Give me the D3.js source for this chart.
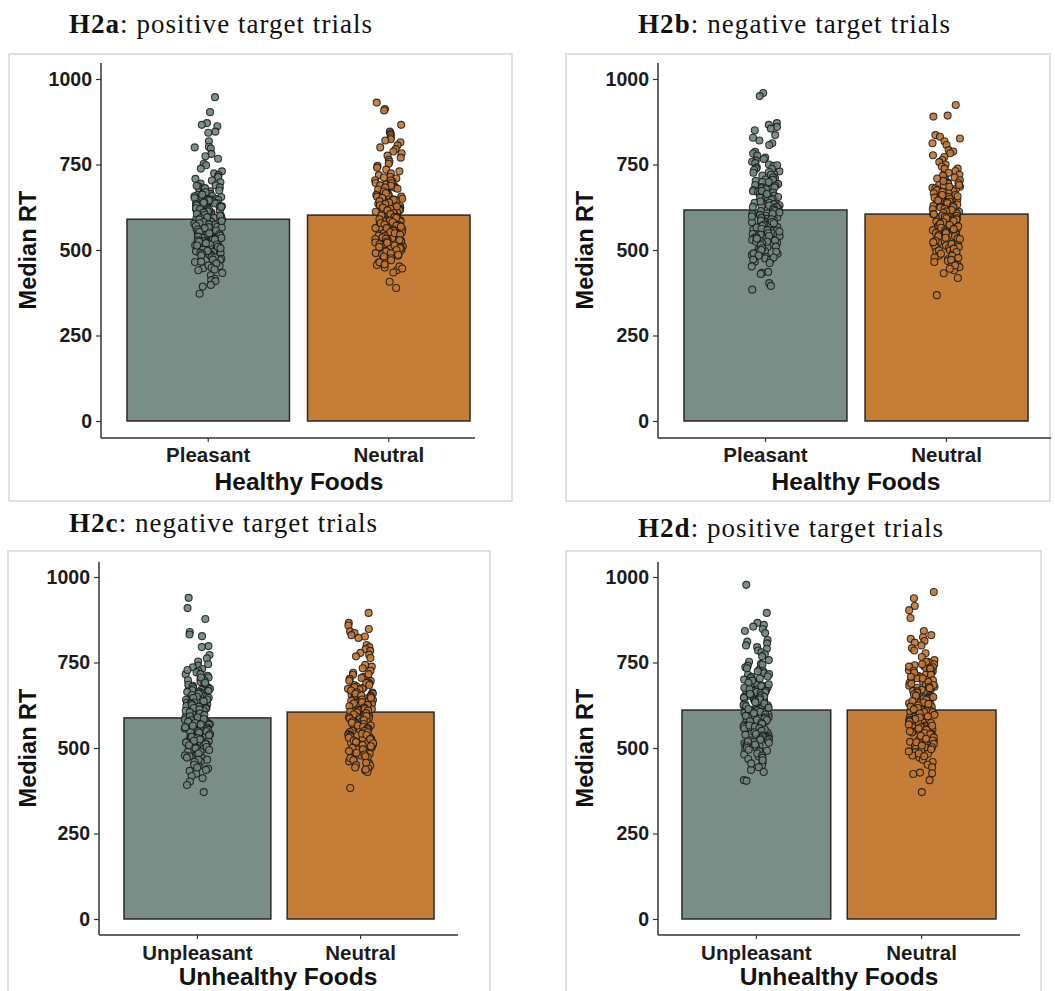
<!DOCTYPE html>
<html><head><meta charset="utf-8">
<script src="https://cdn.jsdelivr.net/npm/d3@7"></script>
<style>body{margin:0;background:#fff}svg{display:block}</style>
</head><body><svg id="c" width="1055" height="991"></svg>
<script>
// ---------- data ----------
const yTicks = [0, 250, 500, 750, 1000];
const healthyCats = ["Pleasant", "Neutral"];
const unhealthyCats = ["Unpleasant", "Neutral"];

const h2aMedians = [590, 602];
const h2bMedians = [617, 605];
const h2cMedians = [588, 605];
const h2dMedians = [611, 611];

const h2aPleasant = [947,903,871,866,862,846,843,818,802,800,797,781,774,767,752,748,738,730,724,719,713,708,703,698,694,689,686,683,679,676,672,670,667,664,661,658,655,653,650,649,646,644,642,640,637,636,633,631,628,627,624,623,620,618,615,614,611,609,607,605,602,601,598,597,594,592,590,587,586,583,581,579,577,574,573,570,568,566,563,561,560,557,555,553,550,549,546,544,542,540,537,535,533,531,528,526,524,521,519,517,514,512,509,507,504,502,499,496,494,491,488,486,483,479,474,470,465,459,453,447,441,433,426,416,412,409,398,393,372,
  688,681,674,669,662,657,652,648,645,641,638,634,630,626,622,619,617,613,610,606,603,600,596,593,589,585,582,578,575,571,567,564,560,557,553,549,546,542,539,535,531,528,524,520,516,513,509,505,501,497,492,488,484,478,472,466,461,455,448,443];
const h2aNeutral = [931,912,908,866,846,841,836,829,824,820,815,806,800,795,788,783,776,770,764,758,752,746,741,735,730,724,719,714,709,704,700,696,692,689,685,682,679,676,673,670,667,664,661,658,656,653,650,648,645,643,640,638,635,633,630,628,625,623,621,618,616,613,611,609,606,604,601,599,597,594,592,590,587,585,583,580,578,576,573,571,569,566,564,561,559,557,554,552,549,547,545,542,540,537,535,532,530,527,524,522,519,516,513,510,507,504,501,498,495,491,487,483,479,474,469,463,456,449,441,434,407,389,
  712,703,695,688,683,677,671,666,661,656,652,647,643,639,635,631,627,624,620,616,612,608,605,601,597,594,590,586,582,579,575,571,568,564,560,556,552,549,545,541,537,533,529,525,521,517,513,509,505,500,496,491,486,481,476,470,464,458,452,446];
const h2bPleasant = [959,950,871,866,860,855,850,836,828,820,812,807,787,782,776,770,766,762,758,754,750,746,742,738,734,730,726,722,718,714,710,706,702,699,696,693,690,687,684,681,678,675,672,669,667,664,661,658,656,653,651,648,646,643,641,638,636,633,631,628,626,624,621,619,617,614,612,610,607,605,602,600,598,595,593,591,588,586,583,581,579,576,574,571,569,567,564,562,559,557,554,552,549,547,544,541,539,536,533,530,527,524,521,518,515,512,508,505,501,497,493,489,485,480,475,471,466,436,433,430,403,395,384,
  748,737,728,720,712,705,699,693,688,683,678,673,668,664,659,655,650,646,642,638,634,630,626,622,618,614,610,606,602,598,594,590,586,582,578,574,570,566,562,558,554,549,545,541,537,533,528,524,519,514,510,505,500,495,490,484,478,472,462,452];
const h2bNeutral = [924,893,890,836,831,826,818,812,807,792,788,783,777,772,763,757,750,744,738,731,726,720,716,712,708,704,700,697,694,691,688,685,682,679,676,673,670,667,664,661,658,655,652,650,647,644,642,639,637,634,632,629,627,624,622,619,617,614,612,609,607,605,602,600,598,595,593,590,588,586,583,581,578,576,573,571,568,566,563,561,558,556,553,550,548,545,542,540,537,534,531,528,525,522,519,516,513,509,506,503,499,495,491,487,483,478,473,468,462,456,450,441,432,418,368,
  738,726,717,709,702,696,690,685,680,675,670,666,661,657,653,649,645,641,637,633,629,625,621,617,613,609,605,601,597,593,589,585,581,577,573,569,565,561,557,553,549,544,540,536,532,527,523,518,514,509,504,499,494,489,483,477,471,465,455,445];
const h2cUnpleasant = [939,909,877,839,832,827,798,795,772,762,753,745,741,736,731,726,721,716,711,706,701,697,693,689,686,682,679,676,673,670,667,664,661,658,655,652,650,647,644,641,639,636,633,631,628,625,623,620,617,615,612,609,607,604,601,599,596,594,591,588,586,583,581,578,575,573,570,568,565,562,560,557,554,552,549,546,543,541,538,535,532,529,526,523,520,517,514,510,507,504,500,497,493,489,485,481,476,471,466,460,454,447,440,433,425,418,412,402,392,371,
  728,716,706,698,691,685,679,674,669,664,659,655,650,646,642,637,633,629,625,621,617,613,609,605,601,597,593,589,585,581,577,573,569,565,561,557,553,549,545,541,537,533,529,525,521,516,512,508,503,499,494,489,484,478,472,466,459,451,443,436];
const h2cNeutral = [895,866,858,848,841,836,830,826,822,801,795,789,784,778,773,768,763,743,738,733,726,720,714,708,702,696,692,688,684,680,677,674,671,668,665,662,659,656,653,650,648,645,642,640,637,634,632,629,627,624,622,619,617,614,612,609,607,604,602,599,597,594,592,589,587,584,582,579,577,574,572,569,566,564,561,558,556,553,550,547,544,541,538,535,532,529,526,523,519,516,512,508,504,500,496,492,488,483,478,473,467,461,455,448,441,434,430,383,
  716,705,697,690,684,678,673,668,663,659,654,650,646,642,638,634,630,626,622,618,614,610,606,602,598,594,590,586,582,578,574,570,566,562,558,554,550,546,542,538,534,530,526,522,518,514,509,505,500,496,491,486,481,476,470,464,457,450,443,437];
const h2dUnpleasant = [977,895,866,860,855,848,842,836,816,811,806,800,795,790,785,780,774,768,757,752,746,741,736,730,725,719,714,708,704,700,696,692,689,685,682,679,676,673,670,667,664,661,658,655,652,649,646,644,641,638,636,633,630,628,625,623,620,618,615,613,610,608,605,603,600,598,595,592,590,587,585,582,579,577,574,571,568,566,563,560,557,554,551,548,545,542,539,536,532,529,526,522,518,514,510,506,502,497,492,487,481,475,468,458,450,444,436,430,406,404,
  744,733,724,716,709,703,697,691,686,681,676,672,667,663,658,654,650,646,642,638,634,630,626,622,618,614,610,606,602,598,594,590,586,582,578,574,570,566,562,558,554,550,546,541,537,533,528,524,519,515,510,505,500,495,490,484,478,472,464,455];
const h2dNeutral = [956,938,915,903,880,842,830,824,819,813,808,800,792,785,777,766,757,752,748,745,742,739,736,733,730,727,724,721,718,714,711,707,704,700,697,694,691,688,685,682,679,676,673,670,667,664,661,658,655,652,649,647,644,641,639,636,633,631,628,625,623,620,618,615,612,610,607,605,602,599,597,594,591,589,586,583,580,577,575,572,569,566,563,560,557,554,551,548,545,542,539,535,532,529,525,522,518,514,510,506,502,498,493,488,483,478,472,466,459,451,444,428,426,424,406,371,
  752,745,738,732,726,720,714,708,703,698,693,688,684,679,675,670,666,662,657,653,649,645,641,637,633,629,625,621,617,613,609,605,601,597,593,589,585,581,577,573,569,565,561,557,553,549,544,540,536,531,527,522,517,512,507,502,496,490,484,476];

const fillColors = ["#7a8d86", "#c57d38"];
const pointFills = ["#6f857d", "#c27632"];

// ---------- layout ----------
const panels = [
  {bold:"H2a", rest:": positive target trials", cats:healthyCats, xTitle:"Healthy Foods", medians:h2aMedians, pts:[h2aPleasant,h2aNeutral],
   box:[9,54,512,501], titleX:69, titleY:33, titleW:303, axisX:101, axisEnd:475, barL:127, barR:470, y0:421, y1:79, axisY:438, axisTop:63, ylabX:28, catY:462, xtX:299, xtY:490},
  {bold:"H2b", rest:": negative target trials", cats:healthyCats, xTitle:"Healthy Foods", medians:h2bMedians, pts:[h2bPleasant,h2bNeutral],
   box:[566,54,1050,501], titleX:638, titleY:33, titleW:312, axisX:658, axisEnd:1051, barL:684, barR:1028, y0:421, y1:79, axisY:438, axisTop:63, ylabX:585, catY:462, xtX:856, xtY:490},
  {bold:"H2c", rest:": negative target trials", cats:unhealthyCats, xTitle:"Unhealthy Foods", medians:h2cMedians, pts:[h2cUnpleasant,h2cNeutral],
   box:[8,551,490,996], titleX:69, titleY:532, titleW:308, axisX:99, axisEnd:458, barL:124, barR:434, y0:919, y1:577, axisY:935, axisTop:562, ylabX:28, catY:960, xtX:278, xtY:985},
  {bold:"H2d", rest:": positive target trials", cats:unhealthyCats, xTitle:"Unhealthy Foods", medians:h2dMedians, pts:[h2dUnpleasant,h2dNeutral],
   box:[566,551,1041,996], titleX:638, titleY:537, titleW:305, axisX:658, axisEnd:1020, barL:682, barR:996, y0:919, y1:577, axisY:935, axisTop:562, ylabX:585, catY:960, xtX:839, xtY:985}
];

const svg = d3.select("#c");
svg.append("rect").attr("width",1055).attr("height",991).attr("fill","#fff");

const sans = "'Liberation Sans', Arial, sans-serif";
const serif = "'Liberation Serif', 'Times New Roman', serif";
const ink = "#1c1c1c";

// deterministic jitter offset in [-1, 1] (visual spread only)
function jit(i, k) {
  const s = Math.sin(i * 12.9898 + k * 78.233) * 43758.5453;
  return (s - Math.floor(s)) * 2 - 1;
}

panels.forEach((p, pi) => {
  const g = svg.append("g");
  g.append("rect").attr("x",p.box[0]).attr("y",p.box[1])
    .attr("width",p.box[2]-p.box[0]).attr("height",p.box[3]-p.box[1])
    .attr("fill","none").attr("stroke","#d6d6d6").attr("stroke-width",1.5);

  const t = g.append("text").attr("x",p.titleX).attr("y",p.titleY)
    .attr("font-family",serif).attr("font-size",27).attr("fill","#111")
    .attr("textLength",p.titleW).attr("lengthAdjust","spacing");
  t.append("tspan").attr("font-weight","bold").text(p.bold);
  t.append("tspan").text(p.rest);

  const x = d3.scaleBand().domain(p.cats).paddingInner(0.1).paddingOuter(0.05);
  const step = (p.barR - p.barL) / 1.9;
  x.range([p.barL - 0.05*step, p.barR + 0.05*step]);
  const y = d3.scaleLinear().domain([0,1000]).range([p.y0, p.y1]);

  g.selectAll(".bar").data(p.cats).join("rect")
    .attr("x", d => x(d)).attr("width", x.bandwidth())
    .attr("y", (d,i) => y(p.medians[i])).attr("height", (d,i) => y(0) - y(p.medians[i]))
    .attr("fill", (d,i) => fillColors[i]).attr("stroke","#2a2a2a").attr("stroke-width",1.5);

  const w = 0.078 * x.step();
  p.cats.forEach((c,ci) => {
    const cx = x(c) + x.bandwidth()/2;
    g.append("g").selectAll("circle").data(p.pts[ci]).join("circle")
      .attr("cx", (v,i) => cx + jit(i + 1, pi*2 + ci + 1) * w)
      .attr("cy", v => y(v))
      .attr("r", 3.5)
      .attr("fill", pointFills[ci]).attr("fill-opacity",0.9)
      .attr("stroke","#1a1a1a").attr("stroke-width",1.1).attr("stroke-opacity",0.85);
  });

  const ya = g.append("g").attr("transform",`translate(${p.axisX},0)`)
    .call(d3.axisLeft(y).tickValues(yTicks).tickSize(5).tickPadding(4).tickFormat(d3.format("d")));
  ya.select(".domain").remove();
  ya.selectAll(".tick line").attr("stroke","#333").attr("stroke-width",1.2);
  ya.selectAll(".tick text").attr("font-family",sans).attr("font-weight","bold")
    .attr("font-size",19.5).attr("fill",ink);
  g.append("line").attr("x1",p.axisX).attr("x2",p.axisX).attr("y1",p.axisTop).attr("y2",p.axisY)
    .attr("stroke","#333").attr("stroke-width",1.5);

  const xa = g.append("g").attr("transform",`translate(0,${p.axisY})`)
    .call(d3.axisBottom(x).tickSize(4).tickPadding(5));
  xa.select(".domain").remove();
  xa.selectAll(".tick line").attr("stroke","#333").attr("stroke-width",1.2);
  xa.selectAll(".tick text").attr("font-family",sans).attr("font-weight","bold")
    .attr("font-size",20.5).attr("fill",ink)
    .attr("y", p.catY - p.axisY).attr("dy",0);
  g.append("line").attr("x1",p.axisX).attr("x2",p.axisEnd).attr("y1",p.axisY).attr("y2",p.axisY)
    .attr("stroke","#333").attr("stroke-width",1.5);

  g.append("text").attr("x",p.xtX).attr("y",p.xtY).attr("text-anchor","middle")
    .attr("font-family",sans).attr("font-weight","bold").attr("font-size",24.5).attr("fill","#111")
    .text(p.xTitle);
  g.append("text").attr("transform",`translate(${p.ylabX + 8},${(p.y0+p.y1)/2}) rotate(-90)`)
    .attr("text-anchor","middle")
    .attr("font-family",sans).attr("font-weight","bold").attr("font-size",23.5).attr("fill","#111")
    .text("Median RT");
});
</script>
</body></html>
